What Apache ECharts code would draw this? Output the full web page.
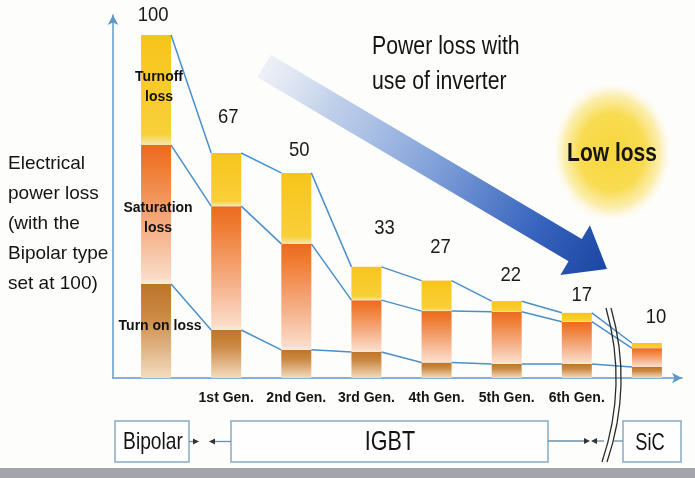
<!DOCTYPE html>
<html>
<head>
<meta charset="utf-8">
<script src="https://cdn.jsdelivr.net/npm/echarts@6/dist/echarts.min.js"></script>
<style>
html,body{margin:0;padding:0;background:#fdfdfc;}
#chart{width:695px;height:478px;}
</style>
</head>
<body>
<div id="chart"></div>
<script>
// ---- data ----
const categories = ['Bipolar', '1st Gen.', '2nd Gen.', '3rd Gen.', '4th Gen.', '5th Gen.', '6th Gen.', 'SiC'];
const turnOnLoss     = [27.4, 14.0, 8.2, 7.6, 4.5, 4.1, 4.1, 3.2];
const saturationLoss = [40.5, 36.1, 30.9, 15.1, 15.0, 15.2, 12.3, 5.5];
const turnOffLoss    = [32.1, 15.5, 20.7, 9.7, 8.9, 3.1, 2.6, 1.5];
const totalLabels    = [100, 67, 50, 33, 27, 22, 17, 10];
const segmentNames   = ['Turn on loss', 'Saturation\nloss', 'Turnoff\nloss'];

// label nudges (style only)
const labelDx = [-3, 2, 3, 18, 4, 4, 5, 9];
const labelGap = [20, 36, 23, 39, 33, 26, 18, 26];

const n = categories.length;
const cumOn = turnOnLoss.slice();
const cumSat = turnOnLoss.map((v, i) => v + saturationLoss[i]);
const cumTotal = cumSat.map((v, i) => v + turnOffLoss[i]);
const levels = [cumOn, cumSat, cumTotal];

const SANS = "'Liberation Sans', Arial, sans-serif";

function grad(stops) {
  return new echarts.graphic.LinearGradient(0, 0, 0, 1, stops.map(s => ({offset: s[0], color: s[1]})));
}

const chart = echarts.init(document.getElementById('chart'), null, {renderer: 'canvas'});

const barLabelBase = {show: false, color: '#111', fontFamily: SANS, fontWeight: 'bold', fontSize: 14, lineHeight: 20};

function withFirstLabel(arr, text, offset) {
  return arr.map((v, i) => i === 0 ? {value: v, label: {show: true, position: 'inside', formatter: text, offset: offset}} : v);
}

// arrow geometry (annotation)
const S = [264, 66], T = [607, 269];
const L = Math.hypot(T[0] - S[0], T[1] - S[1]);
const d = [(T[0] - S[0]) / L, (T[1] - S[1]) / L];
const nv = [-d[1], d[0]];
const shaftHW = 13, headHW = 29, headLen = 37;
const B = [T[0] - d[0] * headLen, T[1] - d[1] * headLen];
function pt(p, k) { return [p[0] + nv[0] * k, p[1] + nv[1] * k]; }
const arrowPts = [pt(S, -shaftHW), pt(B, -shaftHW), pt(B, -headHW), T, pt(B, headHW), pt(B, shaftHW), pt(S, shaftHW)];

function txt(x, y, text, font, scaleX, extra) {
  return Object.assign({
    type: 'text', x: x, y: y, z: 10, scaleX: scaleX,
    style: Object.assign({text: text, fill: '#141414', font: font, textAlign: 'center', textVerticalAlign: 'middle'}, extra || {})
  });
}

const option = {
  backgroundColor: '#fdfdfc',
  animation: false,
  grid: [
    {left: 121, right: 13, top: 35, bottom: 100},
    {left: 113, right: 13, top: 15, bottom: 100}
  ],
  xAxis: [
    {
      type: 'category', gridIndex: 0, data: categories,
      axisLine: {show: false}, axisTick: {show: false},
      axisLabel: {
        interval: 0, margin: 13, color: '#151515', fontFamily: SANS, fontWeight: 'bold', fontSize: 14,
        formatter: (v, i) => (i === 0 || i === n - 1) ? '' : v
      }
    },
    {
      type: 'value', gridIndex: 1, min: 0, max: 1,
      axisLine: {show: true, symbol: ['none', 'arrow'], symbolSize: [8, 10], lineStyle: {color: '#5f98c6', width: 1.5}},
      axisTick: {show: false}, axisLabel: {show: false}, splitLine: {show: false}
    }
  ],
  yAxis: [
    {type: 'value', gridIndex: 0, min: 0, max: 100, show: false},
    {
      type: 'value', gridIndex: 1, min: 0, max: 1,
      axisLine: {show: true, symbol: ['none', 'arrow'], symbolSize: [8, 10], lineStyle: {color: '#5f98c6', width: 1.5}},
      axisTick: {show: false}, axisLabel: {show: false}, splitLine: {show: false}
    }
  ],
  series: [
    {
      name: 'Turn on loss', type: 'bar', stack: 'loss', barWidth: 30, xAxisIndex: 0, yAxisIndex: 0,
      itemStyle: {color: grad([[0, '#bd7526'], [0.35, '#cc8a45'], [1, '#f3dcc0']])},
      label: barLabelBase,
      data: withFirstLabel(turnOnLoss, segmentNames[0], [4, -5])
    },
    {
      name: 'Saturation loss', type: 'bar', stack: 'loss', barWidth: 30, xAxisIndex: 0, yAxisIndex: 0,
      itemStyle: {color: grad([[0, '#ea6a1f'], [0.15, '#ef7a30'], [0.6, '#f5ae85'], [0.96, '#fbdcc8'], [1, '#fcebdc']])},
      label: barLabelBase,
      data: withFirstLabel(saturationLoss, segmentNames[1], [2, 4])
    },
    {
      name: 'Turnoff loss', type: 'bar', stack: 'loss', barWidth: 30, xAxisIndex: 0, yAxisIndex: 0,
      itemStyle: {color: grad([[0, '#f7c41a'], [0.9, '#f9d03a'], [0.97, '#f5e090'], [1, '#f2e7b8']])},
      label: barLabelBase,
      data: withFirstLabel(turnOffLoss, segmentNames[2], [3, -3])
    },
    {
      name: 'connectors', type: 'custom', xAxisIndex: 0, yAxisIndex: 0, z: 5,
      data: categories.map((c, i) => [i, cumTotal[i]]),
      encode: {x: 0, y: 1},
      renderItem: (params, api) => {
        const i = params.dataIndex;
        if (i >= n - 1) return null;
        const half = 15;
        return {
          type: 'group',
          children: levels.map(lv => {
            const a = api.coord([i, lv[i]]);
            const b = api.coord([i + 1, lv[i + 1]]);
            return {type: 'line', shape: {x1: a[0] + half, y1: a[1], x2: b[0] - half, y2: b[1]},
                    style: {stroke: '#4a8fca', lineWidth: 1.5}};
          })
        };
      }
    },
    {
      name: 'totals', type: 'custom', xAxisIndex: 0, yAxisIndex: 0, z: 6,
      data: categories.map((c, i) => [i, cumTotal[i]]),
      encode: {x: 0, y: 1},
      renderItem: (params, api) => {
        const i = params.dataIndex;
        const a = api.coord([i, api.value(1)]);
        return {
          type: 'text', x: a[0] + labelDx[i], y: a[1] - labelGap[i], scaleX: 0.88,
          style: {text: String(totalLabels[i]), fill: '#1a1a1a', font: '21px ' + SANS, textAlign: 'center', textVerticalAlign: 'middle'}
        };
      }
    }
  ],
  graphic: [
    {type: 'rect', shape: {x: 0, y: 468, width: 695, height: 10}, style: {fill: '#a3a5ab'}, z: 1},
    {
      type: 'circle', shape: {cx: 612, cy: 152, r: 60}, scaleY: 1.17, originX: 612, originY: 152, z: 0,
      style: {fill: new echarts.graphic.RadialGradient(0.5, 0.5, 0.5, [
        {offset: 0, color: 'rgba(247,214,60,1)'},
        {offset: 0.55, color: 'rgba(248,218,72,0.95)'},
        {offset: 0.8, color: 'rgba(250,228,120,0.6)'},
        {offset: 1, color: 'rgba(253,248,220,0)'}
      ])}
    },
    txt(612, 154, 'Low loss', 'bold 25px ' + SANS, 0.84),
    {
      type: 'polygon', z: 3, shape: {points: arrowPts},
      style: {fill: new echarts.graphic.LinearGradient(S[0], S[1], T[0], T[1], [
        {offset: 0, color: 'rgba(200,212,232,0.3)'},
        {offset: 0.2, color: 'rgba(170,192,228,0.75)'},
        {offset: 0.5, color: '#7f9fd8'},
        {offset: 0.8, color: '#3663bd'},
        {offset: 1, color: '#1b46a3'}
      ], true)}
    },
    txt(372, 65, 'Power loss with\nuse of inverter', '25px ' + SANS, 0.85, {textAlign: 'left', lineHeight: 35}),
    txt(8, 224, 'Electrical\npower loss\n(with the\nBipolar type\nset at 100)', '19px ' + SANS, 1, {textAlign: 'left', lineHeight: 30}),
    // bottom boxes
    {type: 'rect', z: 4, shape: {x: 115, y: 421, width: 74, height: 41}, style: {fill: '#fefefe', stroke: '#86a9c4', lineWidth: 1.5}},
    {type: 'rect', z: 4, shape: {x: 231, y: 421, width: 317, height: 41}, style: {fill: '#fefefe', stroke: '#86a9c4', lineWidth: 1.5}},
    {type: 'rect', z: 4, shape: {x: 623, y: 421, width: 58, height: 41}, style: {fill: '#fefefe', stroke: '#86a9c4', lineWidth: 1.5}},
    txt(153, 442, 'Bipolar', '24px ' + SANS, 0.8),
    txt(390, 442, 'IGBT', '28px ' + SANS, 0.77),
    txt(650, 443, 'SiC', '24px ' + SANS, 0.76),
    // connectors
    {type: 'line', z: 4, shape: {x1: 189, y1: 441.5, x2: 195, y2: 441.5}, style: {stroke: '#6d8fa8', lineWidth: 1.3}},
    {type: 'polygon', z: 4, shape: {points: [[193, 438.5], [199, 441.5], [193, 444.5]]}, style: {fill: '#333'}},
    {type: 'polygon', z: 4, shape: {points: [[209, 441.5], [215, 438.5], [215, 444.5]]}, style: {fill: '#333'}},
    {type: 'line', z: 4, shape: {x1: 215, y1: 441.5, x2: 231, y2: 441.5}, style: {stroke: '#6d8fa8', lineWidth: 1.3}},
    {type: 'line', z: 4, shape: {x1: 548, y1: 441, x2: 585, y2: 441}, style: {stroke: '#6d8fa8', lineWidth: 1.3}},
    {type: 'polygon', z: 4, shape: {points: [[584, 438], [590, 441], [584, 444]]}, style: {fill: '#333'}},
    {type: 'polygon', z: 4, shape: {points: [[591, 441], [597, 438], [597, 444]]}, style: {fill: '#333'}},
    {type: 'line', z: 4, shape: {x1: 597, y1: 441, x2: 604, y2: 441}, style: {stroke: '#6d8fa8', lineWidth: 1.3}},
    {type: 'line', z: 4, shape: {x1: 614, y1: 441, x2: 623, y2: 441}, style: {stroke: '#6d8fa8', lineWidth: 1.3}},
    // axis break
    {type: 'bezierCurve', z: 7, shape: {x1: 606, y1: 308, cpx1: 628, cpy1: 385, x2: 602, y2: 462}, style: {stroke: '#2a2a2a', lineWidth: 1.3, fill: null}},
    {type: 'bezierCurve', z: 7, shape: {x1: 611, y1: 308, cpx1: 633, cpy1: 385, x2: 607, y2: 462}, style: {stroke: '#2a2a2a', lineWidth: 1.3, fill: null}}
  ]
};

chart.setOption(option);
</script>
</body>
</html>
